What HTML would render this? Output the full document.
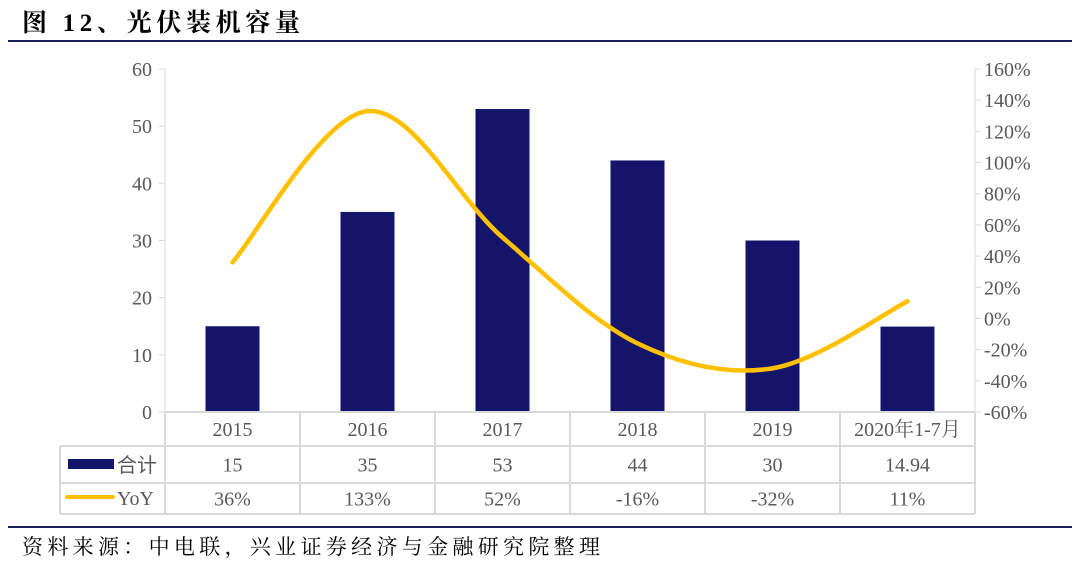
<!DOCTYPE html>
<html><head><meta charset="utf-8"><style>
body{margin:0;width:1080px;height:561px;background:#fff;overflow:hidden;font-family:"Liberation Serif","Noto Serif CJK SC",serif;}
</style></head><body>
<svg width="1080" height="561" xmlns="http://www.w3.org/2000/svg" id="chart">
<text x="22" y="31" font-size="25" font-weight="bold" fill="#000" textLength="278" lengthAdjust="spacing" font-family="Liberation Serif, Noto Serif CJK SC, serif">图 12、光伏装机容量</text>
<line x1="8" y1="41" x2="1072" y2="41" stroke="#1f1f5e" stroke-width="2"/>
<line x1="8" y1="527" x2="1072" y2="527" stroke="#1f1f5e" stroke-width="2"/>
<text x="22" y="554" font-size="21" fill="#000" textLength="578" lengthAdjust="spacing" font-family="Noto Serif CJK SC, serif">资料来源：中电联，兴业证券经济与金融研究院整理</text>
<g id="g"></g>
</svg>
<script>
const categories=["2015","2016","2017","2018","2019","2020年1-7月"];
const totals=[15,35,53,44,30,14.94];
const totalLabels=["15","35","53","44","30","14.94"];
const yoy=[36,133,52,-16,-32,11];
const yoyLabels=["36%","133%","52%","-16%","-32%","11%"];
const leftTicks=[0,10,20,30,40,50,60];
const rightTicks=[-60,-40,-20,0,20,40,60,80,100,120,140,160];

const NS="http://www.w3.org/2000/svg";
const g=document.getElementById('g');
const X0=165,X1=975,Y0=412,Y1=69;
const colW=(X1-X0)/categories.length;
const yL=v=>Y0-(v-0)/(60-0)*(Y0-Y1);
const yR=v=>Y0-(v+60)/(160+60)*(Y0-Y1);
const xC=i=>X0+colW*(i+0.5);
function mk(tag,attrs,parent){const e=document.createElementNS(NS,tag);for(const k in attrs)e.setAttribute(k,attrs[k]);(parent||g).appendChild(e);return e;}
const grey="#d9d9d9",txt="#595959";
let e=mk('line',{x1:X0,y1:Y1,x2:X0,y2:Y0,stroke:grey});


e=mk('line',{x1:X1,y1:Y1,x2:X1,y2:Y0,stroke:grey});


leftTicks.forEach(v=>{
  mk('line',{x1:X0-6,y1:yL(v),x2:X0,y2:yL(v),stroke:grey});
  const t=mk('text',{x:X0-13,y:yL(v)+7,'text-anchor':'end','font-size':20,fill:txt});t.textContent=v;
  
  
});
rightTicks.forEach(v=>{
  mk('line',{x1:X1,y1:yR(v),x2:X1+6,y2:yR(v),stroke:grey});
  const t=mk('text',{x:X1+9,y:yR(v)+7,'font-size':20,fill:txt});t.textContent=v+'%';
  
  
});
totals.forEach((v,i)=>{
  const r=mk('rect',{x:xC(i)-27,y:yL(v),width:54,height:Y0-yL(v),fill:'#14146b'});
  
  
});
const pts=yoy.map((v,i)=>[xC(i),yR(v)]);
let d=`M${pts[0][0]},${pts[0][1]}`;
for(let i=0;i<pts.length-1;i++){
  const p0=pts[Math.max(0,i-1)],p1=pts[i],p2=pts[i+1],p3=pts[Math.min(pts.length-1,i+2)];
  const t=1/6;
  d+=` C${p1[0]+(p2[0]-p0[0])*t},${p1[1]+(p2[1]-p0[1])*t} ${p2[0]-(p3[0]-p1[0])*t},${p2[1]-(p3[1]-p1[1])*t} ${p2[0]},${p2[1]}`;
}
e=mk('path',{d:d,fill:'none',stroke:'#ffc000','stroke-width':4.5,'stroke-linecap':'round'});


const TL=60,rows=[412,446,483,514];
mk('line',{x1:X0,y1:rows[0],x2:X1,y2:rows[0],stroke:grey,'stroke-width':2});
[1,2,3].forEach(k=>mk('line',{x1:TL,y1:rows[k],x2:X1,y2:rows[k],stroke:grey,'stroke-width':2}));
mk('line',{x1:TL,y1:rows[1],x2:TL,y2:rows[3],stroke:grey,'stroke-width':2});
for(let i=0;i<=categories.length;i++){mk('line',{x1:X0+colW*i,y1:rows[0],x2:X0+colW*i,y2:rows[3],stroke:grey,'stroke-width':2});}
const rowData=[categories,totalLabels,yoyLabels];
rowData.forEach((arr,r)=>arr.forEach((s,i)=>{
  const t=mk('text',{x:xC(i),y:(rows[r]+rows[r+1])/2+7,'text-anchor':'middle','font-size':20,fill:txt});t.textContent=s;
  
  
}));
e=mk('rect',{x:68,y:459,width:46,height:10,fill:'#14146b'});


e=mk('text',{x:117,y:472,'font-size':20,fill:txt,'font-family':'Noto Sans CJK SC, sans-serif'});e.textContent='合计';


e=mk('line',{x1:67,y1:497,x2:113,y2:497,stroke:'#ffc000','stroke-width':4,'stroke-linecap':'round'});


e=mk('text',{x:117,y:505,'font-size':20,fill:txt});e.textContent='YoY';


</script>
</body></html>
